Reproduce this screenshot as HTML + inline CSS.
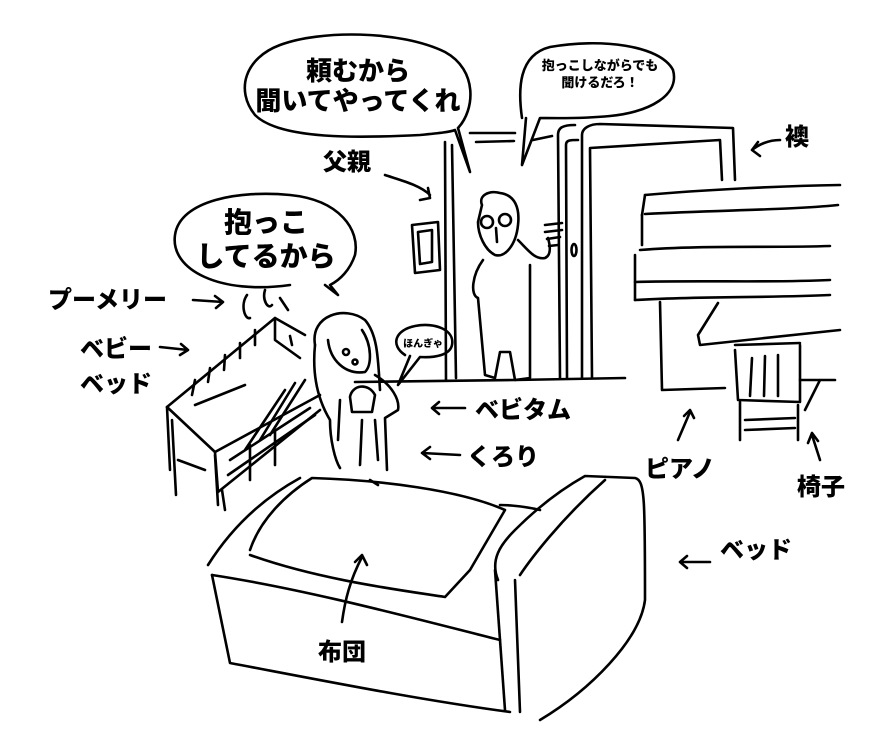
<!DOCTYPE html>
<html><head><meta charset="utf-8"><style>
html,body{margin:0;padding:0;background:#fff;}
svg{display:block}
text{font-family:"Liberation Sans","Noto Sans CJK JP",sans-serif;font-weight:900;fill:#000}
</style></head><body>
<svg width="890" height="736" viewBox="0 0 890 736" xmlns="http://www.w3.org/2000/svg">
<g fill="none" stroke="#000" stroke-width="2.6" stroke-linecap="round" stroke-linejoin="round">
<!-- bubble 1 -->
<path d="M458,128 C475,110 478,70 445,52 C400,30 320,30 280,45 C245,58 235,90 255,115 C280,140 360,138 420,135 C440,133 450,132 455,130 L470,172 L458,128"/>
<!-- bubble 2 -->
<path d="M522,118 C518,90 518,55 550,47 C600,38 660,45 673,70 C680,95 650,112 610,116 C580,119 550,118 540,118 L522,165 L526,118"/>
<!-- bubble 3 -->
<path d="M290,285 C220,295 170,270 175,235 C180,200 240,190 290,195 C340,200 360,230 355,255 C350,270 340,280 330,285 L338,295 L325,285"/>
<!-- bubble 4 -->
<path d="M405,355 C390,345 395,330 415,326 C435,322 455,330 452,345 C450,355 435,358 420,357 L398,385 L410,356"/>
<!-- door frame -->
<path d="M445,142 L446,380"/><path d="M452,145 L456,378"/>
<path d="M470,133 L515,133"/><path d="M476,142 L514,141"/><path d="M533,140 L552,136"/>
<path d="M560,378 L558,135 C558,128 562,125 575,125"/><path d="M567,378 L566,145 C566,140 570,140 578,140"/>
<path d="M582,378 L582,135 C582,128 590,124 600,124 L733,128 L735,180"/>
<path d="M592,378 L590,148 L720,140 L722,180"/>
<path d="M355,382 L515,380 L625,378"/>
<!-- switch -->
<path d="M412,225 L438,222 L440,270 L415,273 Z"/><path d="M418,232 L432,230 L432,262 L420,264 Z"/>
<!-- father -->
<path d="M482,205 C478,195 490,190 500,193 C515,195 520,208 518,225 C516,245 505,258 495,255 C485,250 478,235 478,222 Z"/>
<circle cx="487" cy="222" r="6"/><circle cx="505" cy="220" r="6"/><path d="M496,228 L497,242"/>
<path d="M483,260 C472,275 470,295 478,298 L485,375 L495,378 L500,352 L510,352 L515,380 L530,378 L530,265"/>
<path d="M518,240 C528,250 535,260 545,258 C552,255 550,245 548,238"/>
<path d="M545,225 L562,223 M545,232 L562,230 M547,239 L560,237 M549,246 L558,245"/>
<ellipse cx="574" cy="250" rx="2.5" ry="6"/>
<!-- piano -->
<path d="M645,195 C700,190 780,186 840,185"/><path d="M642,215 L645,195"/><path d="M645,214 C720,210 790,210 838,205"/>
<path d="M642,215 L642,245"/>
<path d="M640,250 C700,245 770,248 830,246"/><path d="M635,255 L635,300"/>
<path d="M635,282 C700,280 770,283 830,280"/><path d="M635,300 C700,296 770,298 830,295"/>
<path d="M660,302 L662,390 L725,388"/>
<path d="M718,303 L698,335 L700,345 L840,330"/>
<!-- chair -->
<path d="M735,345 L800,343"/><path d="M735,350 L738,400 L800,402 L800,345"/>
<path d="M752,358 L750,396 M765,356 L764,396 M778,355 L778,396"/>
<path d="M740,402 L740,440 M798,405 L798,440 M745,420 L795,418 M745,430 L795,428"/>
<path d="M800,380 L835,380 M820,380 L805,410"/>
<!-- crib -->
<path d="M167,407 L275,318 L305,335"/><path d="M167,407 L215,452 L320,395"/>
<path d="M275,318 L275,340 L300,358"/>
<path d="M215,452 L218,492 L320,410"/>
<path d="M167,407 L170,470 M172,420 L176,495 M215,455 L218,505 M222,490 L225,510 M178,460 L205,470"/>
<path d="M295,383 L260,440 M305,380 L270,435 M285,390 L245,450 M230,460 L310,408 M228,475 L315,415 M250,445 L250,480 M275,430 L275,465"/>
<path d="M195,380 L192,395 M210,368 L208,382 M225,355 L224,370 M240,343 L240,358 M255,330 L255,345 M290,336 L292,345"/>
<path d="M195,405 L245,385"/>
<path d="M247,295 C240,305 245,320 250,318 M265,290 C262,300 268,310 272,305 M280,298 L288,310"/>
<!-- mother -->
<path d="M315,345 C310,315 345,305 365,320 C378,335 378,360 380,390"/>
<path d="M315,345 C312,375 318,400 330,420 C330,440 335,460 340,468"/>
<path d="M328,340 C330,360 345,375 365,372 C372,365 372,345 362,330"/>
<path d="M375,375 C392,385 400,400 398,410 L385,418 L387,470"/>
<path d="M350,397 C352,385 368,382 375,395 L372,412 L352,412 Z"/><circle cx="346" cy="352" r="3"/><circle cx="355" cy="362" r="2.5"/>
<path d="M340,400 L338,440 M375,420 L378,460 M362,420 L360,465"/>
<!-- bed -->
<path d="M208,565 C230,530 260,500 300,478"/>
<path d="M250,550 C260,520 285,495 312,478 C380,480 460,490 505,510 L470,570 L445,597 C400,590 320,580 250,555"/>
<path d="M212,575 C310,590 420,620 500,640"/>
<path d="M212,575 L230,663 C320,680 420,700 510,712"/>
<path d="M495,570 L505,710"/>
<path d="M515,580 L520,712"/>
<path d="M498,580 C490,560 500,545 515,530 C535,510 560,490 585,476 L635,478 C645,480 645,500 645,600 C640,640 590,690 540,720"/>
<path d="M520,575 C530,560 560,520 605,480"/>
<path d="M500,505 C500,505 520,505 540,510"/>
<path d="M370,480 L378,485"/>
<!-- arrows -->
<path d="M385,175 C400,180 420,185 430,195 M428,188 L430,198 L420,200"/>
<path d="M780,140 C768,140 758,145 752,150 M758,142 L752,150 L760,156"/>
<path d="M193,300 L223,302 M215,296 L223,302 L216,308"/>
<path d="M160,347 L188,350 M181,344 L188,350 L180,355"/>
<path d="M465,408 L432,408 M439,402 L432,408 L439,414"/>
<path d="M460,455 L422,453 M430,447 L422,453 L430,459"/>
<path d="M678,440 L690,412 M684,416 L690,410 L694,418"/>
<path d="M820,460 L812,435 M808,443 L812,433 L818,441"/>
<path d="M710,562 L680,562 M687,556 L680,562 L687,568"/>
<path d="M342,622 C345,600 350,580 362,557 M355,562 L362,555 L367,565"/>
</g>
<text x="358" y="80" font-size="26" text-anchor="middle">頼むから</text>
<text x="358" y="110" font-size="26" text-anchor="middle">聞いてやってくれ</text>
<text x="600" y="70" font-size="13" text-anchor="middle">抱っこしながらでも</text>
<text x="600" y="87" font-size="13" text-anchor="middle">聞けるだろ！</text>
<text x="266" y="232" font-size="28" text-anchor="middle">抱っこ</text>
<text x="266" y="266" font-size="28" text-anchor="middle">してるから</text>
<text x="423" y="347" font-size="10" text-anchor="middle">ほんぎゃ</text>
<text x="323" y="170" font-size="24">父親</text>
<text x="785" y="145" font-size="24">襖</text>
<text x="48" y="308" font-size="24">プーメリー</text>
<text x="80" y="357" font-size="24">ベビー</text>
<text x="80" y="392" font-size="24">ベッド</text>
<text x="475" y="418" font-size="24">ベビタム</text>
<text x="467" y="465" font-size="24">くろり</text>
<text x="645" y="477" font-size="24">ピアノ</text>
<text x="797" y="495" font-size="24">椅子</text>
<text x="720" y="558" font-size="24">ベッド</text>
<text x="318" y="660" font-size="24">布団</text>
</svg>
</body></html>
